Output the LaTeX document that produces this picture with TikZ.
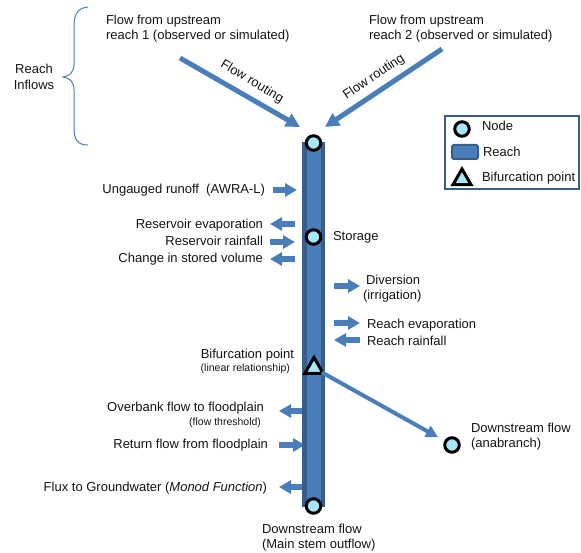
\documentclass[tikz,border=0pt]{standalone}
\usepackage{fontspec}
\setmainfont{Liberation Sans}
\usetikzlibrary{arrows.meta,shapes.geometric}
\definecolor{flowblue}{RGB}{74,126,187}
\definecolor{tubedark}{RGB}{56,93,138}
\definecolor{nodefill}{RGB}{170,230,250}
\definecolor{txt}{RGB}{20,20,20}
\begin{document}
\begin{tikzpicture}[x=1pt,y=-1pt,
  every node/.style={inner sep=0pt,outer sep=0pt,text=txt},
  lbl/.style={font=\fontsize{13}{15}\selectfont},
  smalllbl/.style={font=\fontsize{10.5}{12}\selectfont},
  hydronode/.style={circle,draw=black,line width=3pt,fill=nodefill,minimum size=14.5pt},
  bifnode/.style={regular polygon,regular polygon sides=3,draw=black,line width=3pt,fill=nodefill,minimum size=21pt,line join=miter},
  bigarr/.style={draw=flowblue,line width=5pt,-{Triangle[length=14pt,width=14pt]}},
  anaarr/.style={draw=flowblue,line width=4pt,-{Triangle[length=12pt,width=12pt]}},
  smallarr/.style={draw=flowblue,line width=6pt,-{Triangle[length=12pt,width=13pt]}},
  bracestyle/.style={draw=flowblue,line width=1pt}]
\useasboundingbox (0,0) rectangle (581,553);

% reach inflows brace
\draw[bracestyle] (88,7) .. controls (78,8) and (74,14) .. (74,26)
  -- (74,64) .. controls (74,72) and (70,76) .. (63,77)
  .. controls (70,78) and (74,82) .. (74,90)
  -- (74,128) .. controls (74,140) and (78,145) .. (88,145);
\node[lbl,anchor=base] (ri1) at (34,74) {Reach};
\node[lbl,anchor=base] (ri2) at (34,90) {Inflows};

% upstream texts
\node[lbl,anchor=base west] (up1a) at (106,25) {Flow from upstream};
\node[lbl,anchor=base west] (up1b) at (106,40) {reach 1 (observed or simulated)};
\node[lbl,anchor=base west] (up2a) at (369,25) {Flow from upstream};
\node[lbl,anchor=base west] (up2b) at (369,40) {reach 2 (observed or simulated)};

% big inflow arrows
\coordinate (in1s) at (180,58);
\coordinate (in1e) at (300,127);
\coordinate (in2s) at (442,49);
\coordinate (in2e) at (325,127);
\draw[bigarr] (in1s) -- (in1e);
\draw[bigarr] (in2s) -- (in2e);
\node[lbl,rotate=-31] (fr1) at (252,82) {Flow routing};
\node[lbl,rotate=34] (fr2) at (374,77) {Flow routing};

% small flux arrows
\coordinate (a1s) at (273,190); \coordinate (a1e) at (297,190);
\coordinate (a2s) at (295,224); \coordinate (a2e) at (270,224);
\coordinate (a3s) at (270,242); \coordinate (a3e) at (295,242);
\coordinate (a4s) at (295,259); \coordinate (a4e) at (270,259);
\coordinate (a5s) at (334,286); \coordinate (a5e) at (360,286);
\coordinate (a6s) at (334,323); \coordinate (a6e) at (360,323);
\coordinate (a7s) at (360,340); \coordinate (a7e) at (334,340);
\coordinate (a8s) at (305,411); \coordinate (a8e) at (279,411);
\coordinate (a9s) at (279,445); \coordinate (a9e) at (305,445);
\coordinate (a10s) at (305,487); \coordinate (a10e) at (279,487);
\foreach \i in {1,...,10} {\draw[smallarr] (a\i s) -- (a\i e);}

% reach tube
\fill[tubedark] (302,142) rectangle (325,507);
\fill[flowblue] (306.5,142) rectangle (320.5,507);

% nodes
\node[hydronode] (ntop) at (313.5,143) {};
\node[hydronode] (nstor) at (313.5,237) {};
\node[hydronode] (nbot) at (313.5,506) {};
\node[bifnode] (nbif) at (314,368) {};
\node[hydronode] (nana) at (452,445) {};
\draw[anaarr,shorten <=9pt,shorten >=16pt] (nbif.center) -- (nana.center);

% left labels
\node[lbl,anchor=base east] (t1) at (265,194) {Ungauged runoff~ (AWRA-L)};
\node[lbl,anchor=base east] (t2) at (263,229) {Reservoir evaporation};
\node[lbl,anchor=base east] (t3) at (263,246) {Reservoir rainfall};
\node[lbl,anchor=base east] (t4) at (263,263) {Change in stored volume};
\node[lbl,anchor=base west] (t5) at (333,241) {Storage};
\node[lbl,anchor=base west] (t6) at (366,285) {Diversion};
\node[lbl,anchor=base west] (t6b) at (363,300) {(irrigation)};
\node[lbl,anchor=base west] (t7) at (367,329) {Reach evaporation};
\node[lbl,anchor=base west] (t8) at (367,345) {Reach rainfall};
\node[lbl,anchor=base east] (t9) at (294,358) {Bifurcation point};
\node[smalllbl,anchor=base east] (t9b) at (290,371) {(linear relationship)};
\node[lbl,anchor=base east] (t10) at (264,411) {Overbank flow to floodplain};
\node[smalllbl,anchor=base east] (t10b) at (261,425) {(flow threshold)};
\node[lbl,anchor=base east] (t11) at (268,448) {Return flow from floodplain};
\node[lbl,anchor=base east] (t12) at (267,491) {Flux to Groundwater (\textit{Monod Function})};
\node[lbl,anchor=base west] (t13) at (262,533) {Downstream flow};
\node[lbl,anchor=base west] (t13b) at (262,548) {(Main stem outflow)};
\node[lbl,anchor=base west] (t14) at (471,432) {Downstream flow};
\node[lbl,anchor=base west] (t14b) at (471,447) {(anabranch)};

% legend
\draw[tubedark,line width=1.2pt] (445,116) rectangle (579,189);
\node[hydronode] (lnode) at (462,129) {};
\node[lbl,anchor=base west] (lnodet) at (482,131) {Node};
\draw[tubedark,fill=flowblue,line width=2pt,rounded corners=2pt] (452,145) rectangle (478,159);
\node[lbl,anchor=base west] (lreacht) at (483,157) {Reach};
\node[bifnode] (lbif) at (462,179.5) {};
\node[lbl,anchor=base west] (lbift) at (482,182) {Bifurcation point};
\end{tikzpicture}
\end{document}
